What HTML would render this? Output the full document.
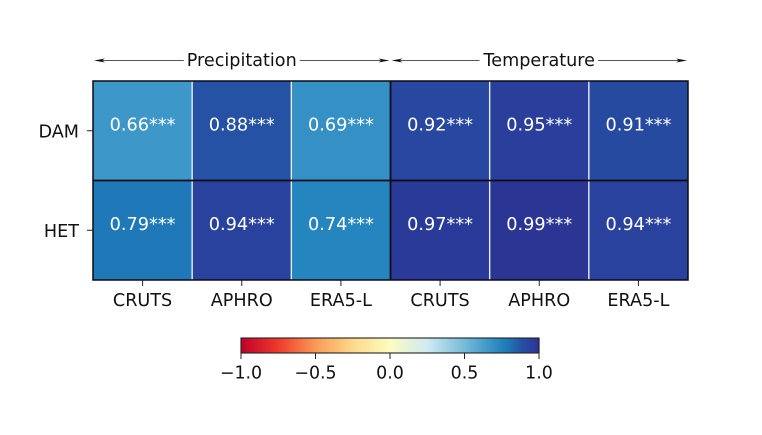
<!DOCTYPE html>
<html>
<head>
<meta charset="utf-8">
<style>
html,body{margin:0;padding:0;background:#fff;width:762px;height:435px;overflow:hidden}
svg{display:block}
text{font-family:"DejaVu Sans","Liberation Sans",sans-serif}
</style>
</head>
<body>
<svg id="chart" width="762" height="435" viewBox="0 0 762 435" xmlns="http://www.w3.org/2000/svg"></svg>
<script>
const columns = ['CRUTS','APHRO','ERA5-L','CRUTS','APHRO','ERA5-L'];
const rows = ['DAM','HET'];
const damValues = [0.66,0.88,0.69,0.92,0.95,0.91];
const hetValues = [0.79,0.94,0.74,0.97,0.99,0.94];
const significance = '***';
const groups = ['Precipitation','Temperature'];
const colorbarTicks = [-1.0,-0.5,0.0,0.5,1.0];
const colorbarTickLabels = ['\u22121.0','\u22120.5','0.0','0.5','1.0'];
const colormapPositions = [-1,-0.75,-0.5,-0.25,0,0.25,0.5,0.66,0.74,0.79,0.88,0.95,1];
const colormapColors = ['#c00028','#ee3a2c','#fa9a55','#fdd98a','#fdfcc0','#cfeaf2','#75bcd8','#3e97c9','#2585bf','#1f78b8','#2552a5','#2a3f9c','#2b3292'];

const svg = document.getElementById('chart');
const NS = 'http://www.w3.org/2000/svg';
const plotLeft = 93, plotRight = 688, plotTop = 81, plotBottom = 280;
const barLeft = 241, barRight = 539, barTop = 338, barBottom = 353;

function xScale(i){ return plotLeft + i * (plotRight - plotLeft) / columns.length; }
function yScale(i){ return plotTop + i * (plotBottom - plotTop) / rows.length; }
function barScale(v){ return barLeft + (v + 1) / 2 * (barRight - barLeft); }
function hexToRgb(h){ return [1,3,5].map(function(k){ return parseInt(h.substr(k,2),16); }); }
function colorScale(v){
  let k = 0;
  while (k < colormapPositions.length - 2 && v > colormapPositions[k + 1]) k++;
  const t = Math.max(0, Math.min(1, (v - colormapPositions[k]) / (colormapPositions[k + 1] - colormapPositions[k])));
  const a = hexToRgb(colormapColors[k]), b = hexToRgb(colormapColors[k + 1]);
  return 'rgb(' + a.map(function(c, n){ return Math.round(c + (b[n] - c) * t); }).join(',') + ')';
}
function make(tag, attrs, text){
  const el = document.createElementNS(NS, tag);
  for (const key in attrs) el.setAttribute(key, attrs[key]);
  if (text !== undefined) el.textContent = text;
  svg.appendChild(el);
  return el;
}

const tableValues = [damValues, hetValues];

// heatmap cells and value labels
tableValues.forEach(function(series, r){
  series.forEach(function(value, c){
    const cell = make('rect', {x:xScale(c), y:yScale(r), width:xScale(c+1)-xScale(c), height:yScale(r+1)-yScale(r), fill:colorScale(value)});
    
    
    const label = make('text', {x:(xScale(c)+xScale(c+1))/2, y:yScale(r)+49.5, fill:'#fff', 'font-size':'17.7', 'text-anchor':'middle'}, value.toFixed(2) + significance);
    
    
  });
});

// white column separators
for (let c = 1; c < columns.length; c++) {
  if (c === 3) continue;
  const sep = make('line', {x1:xScale(c), x2:xScale(c), y1:plotTop, y2:plotBottom, stroke:'#e6eef4', 'stroke-width':'1.4'});
  
  
}

// black dividers
const rowDivider = make('line', {x1:plotLeft, x2:plotRight, y1:yScale(1), y2:yScale(1), stroke:'#0b0b14', 'stroke-width':'1.8'});


const groupDivider = make('line', {x1:xScale(3), x2:xScale(3), y1:plotTop, y2:plotBottom, stroke:'#0b0b14', 'stroke-width':'1.8'});


const frame = make('rect', {x:plotLeft, y:plotTop, width:plotRight-plotLeft, height:plotBottom-plotTop, fill:'none', stroke:'#0b0b14', 'stroke-width':'1.5'});



// x axis
columns.forEach(function(name, c){
  const cx = (xScale(c)+xScale(c+1))/2;
  const tick = make('line', {x1:cx, x2:cx, y1:plotBottom, y2:plotBottom+6, stroke:'#222', 'stroke-width':'1'});
  
  
  const label = make('text', {x:cx, y:306, fill:'#111', 'font-size':'17.6', 'text-anchor':'middle'}, name);
  
  
});

// y axis
rows.forEach(function(name, r){
  const cy = (yScale(r)+yScale(r+1))/2;
  const tick = make('line', {x1:plotLeft-6, x2:plotLeft, y1:cy, y2:cy, stroke:'#222', 'stroke-width':'1'});
  
  
  const label = make('text', {x:plotLeft-14, y:cy+6.5, fill:'#111', 'font-size':'17.6', 'text-anchor':'end'}, name);
  
  
});

// group annotations with double-headed arrows
groups.forEach(function(name, g){
  const x0 = xScale(g * 3) + 1, x1 = xScale(g * 3 + 3) - 1, y = 60.5;
  const line = make('line', {x1:x0+6, x2:x1-6, y1:y, y2:y, stroke:'#555', 'stroke-width':'0.9'});
  
  
  const headL = make('path', {d:'M'+x0+' '+y+' L'+(x0+11)+' '+(y-2)+' L'+(x0+8)+' '+y+' L'+(x0+11)+' '+(y+2)+' Z', fill:'#111'});
  
  
  const headR = make('path', {d:'M'+x1+' '+y+' L'+(x1-11)+' '+(y-2)+' L'+(x1-8)+' '+y+' L'+(x1-11)+' '+(y+2)+' Z', fill:'#111'});
  
  
  const cx = (x0+x1)/2;
  const label = make('text', {x:cx, y:66, fill:'#111', 'font-size':'17.6', 'text-anchor':'middle'}, name);
  
  
  const box = label.getBBox();
  const mask = make('rect', {x:box.x-3, y:y-3, width:box.width+6, height:6, fill:'#fff'});
  
  
  svg.insertBefore(mask, label);
});

// colorbar
const barSteps = 149;
for (let i = 0; i < barSteps; i++) {
  const v0 = -1 + 2 * i / barSteps, v1 = -1 + 2 * (i + 1) / barSteps;
  const seg = make('rect', {x:barScale(v0), y:barTop, width:barScale(v1)-barScale(v0)+0.6, height:barBottom-barTop, fill:colorScale((v0+v1)/2)});
  
  
}
const barFrame = make('rect', {x:barLeft, y:barTop, width:barRight-barLeft, height:barBottom-barTop, fill:'none', stroke:'#222', 'stroke-width':'1.1'});


colorbarTicks.forEach(function(v, i){
  const tx = barScale(v);
  const tick = make('line', {x1:tx, x2:tx, y1:barBottom, y2:barBottom+6, stroke:'#222', 'stroke-width':'1'});
  
  
  const label = make('text', {x:tx, y:378.5, fill:'#111', 'font-size':'17.4', 'text-anchor':'middle'}, colorbarTickLabels[i]);
  
  
});
</script>
</body>
</html>
